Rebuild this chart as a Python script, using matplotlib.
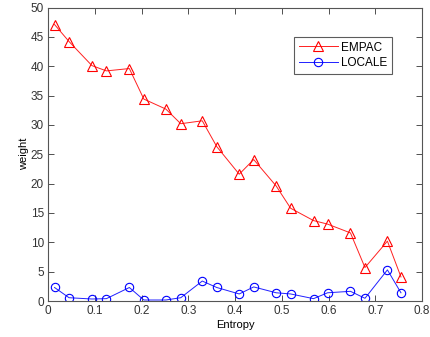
import matplotlib
matplotlib.use("Agg")
import matplotlib.pyplot as plt

plt.rcParams["font.family"] = ["Liberation Sans", "DejaVu Sans"]

entropy = [0.014, 0.045, 0.094, 0.125, 0.174, 0.205, 0.252, 0.284, 0.330, 0.361,
           0.409, 0.440, 0.488, 0.519, 0.568, 0.598, 0.647, 0.678, 0.726, 0.755]
empac = [47.1, 44.2, 40.1, 39.2, 39.6, 34.4, 32.7, 30.2, 30.7, 26.3,
         21.6, 24.1, 19.6, 15.8, 13.7, 13.1, 11.6, 5.7, 10.2, 4.1]
locale = [2.3, 0.56, 0.34, 0.4, 2.3, 0.17, 0.17, 0.56, 3.4, 2.3,
          1.2, 2.4, 1.4, 1.2, 0.4, 1.4, 1.65, 0.46, 5.3, 1.4]

fig = plt.figure(figsize=(4.3, 3.37), dpi=100)
ax = fig.add_axes([48 / 430, 1 - 301 / 337, 374 / 430, 293.5 / 337])

ax.plot(entropy, empac, color="#ff2020", lw=0.7, marker="^", ms=7,
        mfc="none", mec="#ff0000", mew=0.8, label="EMPAC")
ax.plot(entropy, locale, color="#2020ff", lw=0.7, marker="o", ms=6,
        mfc="none", mec="#0000ff", mew=0.8, label="LOCALE")

ax.set_xlim(0, 0.8)
ax.set_ylim(0, 50)
ax.set_xticks([0, 0.1, 0.2, 0.3, 0.4, 0.5, 0.6, 0.7, 0.8])
ax.set_xticklabels(["0", "0.1", "0.2", "0.3", "0.4", "0.5", "0.6", "0.7", "0.8"])
ax.set_yticks(range(0, 51, 5))
ax.tick_params(direction="in", top=True, right=True, length=4, width=0.6,
               labelsize=8.5, colors="#333333", pad=3)
for s in ax.spines.values():
    s.set_color("#555555")
    s.set_linewidth(0.8)

ax.set_xlabel("Entropy", fontsize=8, labelpad=2)
ax.set_ylabel("weight", fontsize=8, labelpad=1)

leg = ax.legend(loc="upper left", bbox_to_anchor=(0.658, 0.9), fontsize=8.5,
                frameon=True, fancybox=False, handlelength=3.3, borderpad=0.4,
                handletextpad=0.3, labelspacing=0.3, borderaxespad=0)
leg.get_frame().set_edgecolor("#333333")
leg.get_frame().set_linewidth(0.8)

fig.savefig("out.png", dpi=100)
